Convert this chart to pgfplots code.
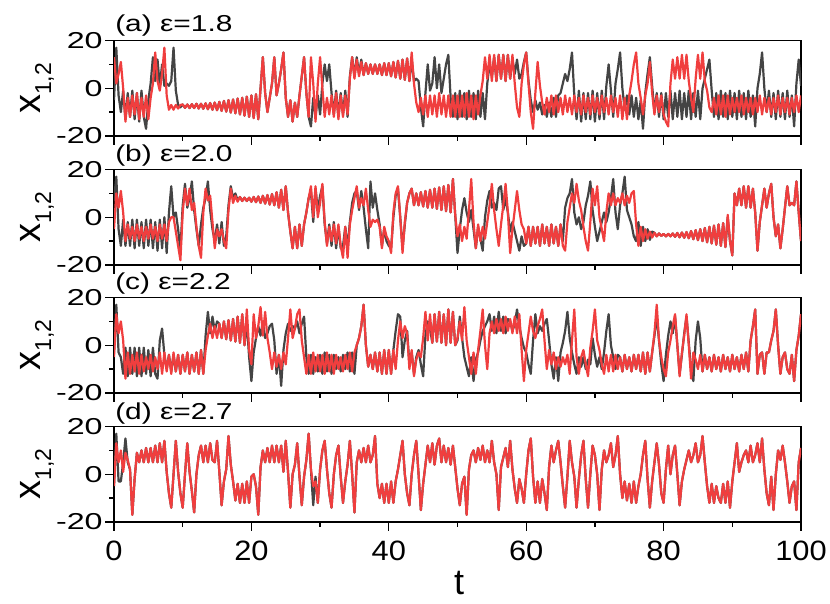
\documentclass[border=0pt]{standalone}
\usepackage{fontspec}
\setmainfont{Liberation Sans}
\usepackage{pgfplots}
\usepackage{pgfplotstable}
\pgfplotsset{compat=1.18}

\definecolor{sgray}{RGB}{68,68,68}
\definecolor{sred}{RGB}{240,62,62}

% one column per series, sampled every 1/3 time unit (t = 0 ... 100)
% (a) eps = 1.8
\pgfplotstableread[row sep=\\]{y\\
-5\\ 17\\ -3\\ -10\\ -1\\ -13\\ -2\\ -12\\ -1\\ -13\\ -2\\ -14\\ -1\\ -12\\ -17\\ -5\\ 2\\ 13\\ 3\\ 12\\ 1\\ 10\\ 1\\ 2\\ 1\\ 3\\ 17\\ -1\\ -7\\ -8\\
-6.8\\ -8.2\\ -6.8\\ -8.3\\ -6.7\\ -8.3\\ -6.5\\ -8.5\\ -6.5\\ -8.6\\ -6.3\\ -8.8\\ -6.2\\ -9\\ -6\\ -9.2\\ -5.7\\ -9.5\\ -5.3\\ -9.8\\ -5\\ -10.2\\ -4.7\\ -10.5\\ -4.3\\ -11\\ -4\\ -11.5\\ -3.5\\ -12\\
-3\\ -12.5\\ -2.5\\ -13\\ 0\\ 13\\ -2\\ -10\\ -4\\ 2\\ 13\\ -3\\ 2\\ 8\\ 15\\ -4\\ -12\\ -5\\ -14\\ -6\\ -12\\ -3\\ 5\\ 13\\ -2\\ -12\\ -16\\ -4\\ -12\\ -3\\
-11\\ 2\\ 10\\ 3\\ 10\\ -2\\ -11\\ -1\\ -12\\ -2\\ -11\\ -1\\ -12\\ 5\\ 13\\ 5\\ 13\\ 6\\ 12\\ 5.5\\ 10.5\\ 6\\ 10\\ 6\\ 10\\ 6\\ 10\\ 5.5\\ 10.5\\ 5.5\\
10.5\\ 5\\ 11\\ 4.5\\ 11.5\\ 4\\ 12\\ 3.5\\ 12.5\\ 3\\ 12\\ 3\\ 4\\ 3\\ -8\\ -16\\ -2\\ 10\\ -1\\ 2\\ 13\\ 0\\ 10\\ -2\\ 4\\ 10\\ 14\\ -4\\ -12\\ -2\\
-13\\ -1\\ -12\\ -2\\ -13\\ -1\\ -12\\ -2\\ -13\\ -1\\ -12\\ -2\\ -13\\ 2\\ 10\\ 5\\ 13\\ 3\\ 14\\ 4\\ 14\\ 3\\ 14\\ 4\\ 12\\ 6\\ 12\\ 4\\ 6\\ 11\\
15\\ 3\\ -5\\ -10\\ -5\\ -9\\ -6\\ -11\\ -7\\ -12\\ -6\\ -12\\ -4\\ -12\\ -3\\ -2\\ 2\\ 6\\ 3\\ 8\\ 15\\ -3\\ -13\\ -1\\ -14\\ -2\\ -13\\ -2\\ -13\\ -1\\
-14\\ -2\\ -13\\ -1\\ -13\\ 1\\ 10\\ -1\\ -12\\ 2\\ 8\\ 15\\ 0\\ -9\\ -3\\ -11\\ -3\\ -12\\ -4\\ -13\\ -5\\ -17\\ -2\\ 6\\ 13\\ 1\\ -10\\ -2\\ -12\\ -2\\
-13\\ -2\\ -12\\ -1\\ -13\\ -2\\ -12\\ -1\\ -13\\ -2\\ -12\\ -1\\ -13\\ -2\\ -12\\ -1\\ -13\\ 0\\ 4\\ 8\\ 12\\ -1\\ -12\\ -2\\ -13\\ -1\\ -12\\ -2\\ -13\\ -1\\
-12\\ -2\\ -13\\ -1\\ -12\\ -2\\ -13\\ -1\\ -12\\ -3\\ -16\\ 0\\ 6\\ 15\\ 0\\ -10\\ -1\\ -12\\ -2\\ -13\\ -1\\ -12\\ -2\\ -13\\ -1\\ -12\\ -3\\ -16\\ 2\\ 12\\
1\\
}\tAgray
\pgfplotstableread[row sep=\\]{y\\
13\\ 2\\ 6\\ 11\\ 0\\ -14\\ -4\\ -12\\ -3\\ -11\\ -2\\ -13\\ -4\\ -12\\ -3\\ -13\\ -4\\ 2\\ 15\\ 3\\ -1\\ 6\\ 17\\ -3\\ -9\\ -7\\ -9\\ -7\\ -8.5\\ -7\\
-6.8\\ -8.2\\ -6.8\\ -8.3\\ -6.7\\ -8.3\\ -6.5\\ -8.5\\ -6.5\\ -8.6\\ -6.3\\ -8.8\\ -6.2\\ -9\\ -6\\ -9.2\\ -5.7\\ -9.5\\ -5.3\\ -9.8\\ -5\\ -10.2\\ -4.7\\ -10.5\\ -4.3\\ -11\\ -4\\ -11.5\\ -3.5\\ -12\\
-3\\ -12.5\\ -2.5\\ -13\\ 0\\ 13\\ -2\\ -10\\ -4\\ 2\\ 13\\ -3\\ 2\\ 8\\ 15\\ -4\\ -12\\ -5\\ -14\\ -6\\ -12\\ -3\\ 5\\ 13\\ -2\\ -12\\ 13\\ 2\\ -14\\ 2\\
13\\ 0\\ -12\\ -4\\ -11\\ -3\\ -12\\ -2\\ -13\\ -3\\ -12\\ -3\\ -11\\ 4\\ 13\\ 4\\ 12\\ 5\\ 11\\ 5.5\\ 10.5\\ 6\\ 10\\ 6\\ 10\\ 6\\ 10\\ 5.5\\ 10.5\\ 5.5\\
10.5\\ 5\\ 11\\ 4.5\\ 11.5\\ 4\\ 12\\ 3.5\\ 12.5\\ 3\\ 15\\ 2\\ -6\\ -10\\ -4\\ -11\\ -3\\ -12\\ -3\\ -11\\ -3\\ -12\\ -2\\ -11\\ -3\\ -12\\ -3\\ -12\\ -3\\ -12\\
-3\\ -12\\ -3\\ -12\\ -2\\ -12\\ -3\\ -13\\ -3\\ -11\\ -3\\ 3\\ 13\\ 4\\ 14\\ 3\\ 14\\ 3\\ 14\\ 4\\ 14\\ 3\\ 14\\ 4\\ 14\\ 2\\ -8\\ -12\\ 2\\ 10\\
15\\ 2\\ -10\\ -17\\ -2\\ 11\\ 1\\ -6\\ -11\\ -4\\ -10\\ -3\\ -11\\ -3\\ -10\\ -4\\ -11\\ -3\\ -10\\ -4\\ -11\\ -3\\ -10\\ -4\\ -11\\ -3\\ -10\\ -4\\ -11\\ -3\\
-10\\ -4\\ -11\\ -3\\ -10\\ -4\\ -11\\ -3\\ -10\\ -4\\ -12\\ -3\\ -13\\ -4\\ -13\\ -3\\ 3\\ 10\\ 15\\ 2\\ -4\\ -11\\ -3\\ 2\\ 11\\ -2\\ -11\\ -3\\ -10\\ -3\\
-11\\ -14\\ -16\\ 2\\ 12\\ 4\\ 13\\ 4\\ 14\\ 4\\ 14\\ 3\\ -4\\ -10\\ 4\\ 14\\ 4\\ 15\\ 3\\ -1\\ -8\\ -10\\ -4\\ -11\\ -3\\ -11\\ -3\\ -12\\ -3\\ -11\\
-4\\ -10\\ -4\\ -10\\ -3\\ -11\\ -4\\ -10\\ -4\\ -11\\ -4\\ -10\\ -3\\ -11\\ -4\\ -10\\ -4\\ -11\\ -4\\ -10\\ -3\\ -11\\ -4\\ -10\\ -4\\ -11\\ -4\\ -10\\ -3\\ -10\\
-3\\
}\tAred

% (b) eps = 2.0
\pgfplotstableread[row sep=\\]{y\\
7\\ 17\\ -5\\ -12\\ -1\\ -12\\ -2\\ -12\\ -1\\ -13\\ -1\\ -12\\ -2\\ -13\\ -1\\ -12\\ -1\\ -13\\ -2\\ -14\\ -1\\ -13\\ 0\\ -15\\ 2\\ 13\\ 0\\ 2\\ -5\\ -14\\
5\\ 14\\ 4\\ 8\\ 15\\ 3\\ -5\\ -12\\ -3\\ 4\\ 8\\ 15\\ 3\\ -5\\ -10\\ -3\\ -11\\ -2\\ -12\\ -8\\ 5\\ 13\\ 8\\ 10\\ 7\\ 8.5\\ 6.8\\ 8.2\\ 6.8\\ 8.2\\
6.5\\ 8.5\\ 6.3\\ 8.7\\ 6\\ 9\\ 5.7\\ 9.3\\ 5.3\\ 9.7\\ 5\\ 10.5\\ 4\\ 11.5\\ 3\\ 13\\ 2\\ -6\\ -13\\ -4\\ -13\\ -3\\ -12\\ -3\\ 2\\ 8\\ 11\\ -2\\ 12\\ 3\\
9\\ 13\\ -3\\ -11\\ -3\\ -12\\ -2\\ -13\\ -4\\ -13\\ -12\\ -4\\ -13\\ -2\\ 6\\ 10\\ 11\\ 3\\ 11\\ 4\\ -5\\ -13\\ 15\\ 4\\ 10\\ 3\\ -3\\ -12\\ -5\\ -10\\
-12\\ -13\\ 0\\ 9\\ 12\\ 0\\ -13\\ -3\\ 6\\ 10\\ 12\\ 5\\ 10\\ 5\\ 10.5\\ 4.5\\ 11\\ 4\\ 11.5\\ 4\\ 12\\ 3.5\\ 12.5\\ 3\\ 13\\ 2.5\\ 13.5\\ 2\\ 16\\ 1\\
-15\\ -5\\ 3\\ 8\\ 2\\ -2\\ 3\\ -5\\ -13\\ -4\\ -9\\ -14\\ 0\\ 7\\ 11\\ 4\\ 6\\ 3\\ 12\\ 13\\ 3\\ 8\\ 2\\ -6\\ -2\\ -6\\ -10\\ -14\\ -8\\ -12\\
-11\\ -4\\ -12\\ -4\\ -11\\ -4\\ -12\\ -3\\ -11\\ -4\\ -12\\ -3\\ -11\\ -4\\ -12\\ -3\\ -10\\ 4\\ 8\\ 10\\ 16\\ 2\\ -3\\ 0\\ -5\\ -2\\ 5\\ 9\\ 15\\ 3\\
-4\\ -10\\ -6\\ -2\\ 2\\ -2\\ 2\\ 8\\ 16\\ 2\\ -5\\ 5\\ 10\\ 17\\ 3\\ 0\\ -3\\ -8\\ -10\\ -2\\ -12\\ -4\\ -10\\ -5\\ -9.5\\ -6\\ -6.5\\ -8\\ -6.8\\ -7.8\\
-7\\ -8\\ -7\\ -8\\ -6.8\\ -8.2\\ -6.6\\ -8.4\\ -6.4\\ -8.6\\ -6.2\\ -8.8\\ -5.8\\ -9.2\\ -5.4\\ -9.6\\ -5\\ -10\\ -4.5\\ -10.5\\ -4\\ -11\\ -3.5\\ -11.5\\ -3\\ -12\\ -2.5\\ -12.5\\ 0\\ -10\\
-16\\ 10\\ 5\\ 12\\ 5\\ 13\\ 4\\ 13\\ 4\\ 12\\ 2\\ -14\\ -2\\ 5\\ 12\\ 4\\ 10\\ 14\\ 0\\ -8\\ -3\\ -13\\ -5\\ 4\\ 13\\ 5\\ 6\\ 5\\ 15\\ 2\\
-10\\
}\tBgray
\pgfplotstableread[row sep=\\]{y\\
-5\\ 10\\ 4\\ 11\\ 2\\ -10\\ -3\\ -9\\ -4\\ -10\\ -3\\ -9\\ -4\\ -10\\ -4\\ -9\\ -3\\ -9\\ -4\\ -10\\ -3\\ -9\\ -3\\ -10\\ -2\\ 0\\ 0\\ -6\\ -12\\ -18\\
2\\ 12\\ 5\\ 12\\ 3\\ 6\\ -4\\ -12\\ -17\\ 2\\ 12\\ 7\\ 9\\ -2\\ -13\\ -5\\ -8\\ -5\\ -10\\ -13\\ 3\\ 12\\ 6\\ 9\\ 6.5\\ 8.5\\ 6.8\\ 8.2\\ 6.8\\ 8.2\\
6.5\\ 8.5\\ 6.3\\ 8.7\\ 6\\ 9\\ 5.7\\ 9.3\\ 5.3\\ 9.7\\ 5\\ 10.5\\ 4\\ 11.5\\ 3\\ 13\\ 2\\ -6\\ -13\\ -4\\ -13\\ -3\\ -12\\ -3\\ 2\\ 8\\ 13\\ 0\\ 13\\ 0\\
6\\ 14\\ -2\\ -12\\ -4\\ -10\\ -3\\ -11\\ -3\\ -12\\ -17\\ -4\\ -17\\ -3\\ 3\\ 8\\ 13\\ 4\\ 8\\ 5\\ 12\\ 3\\ -4\\ -1\\ -2\\ -1\\ -4\\ -13\\ -4\\ -8\\
-10\\ -15\\ 2\\ 10\\ 13\\ 0\\ -15\\ -2\\ 6\\ 10\\ 12\\ 5\\ 10\\ 5\\ 10.5\\ 4.5\\ 11\\ 4\\ 11.5\\ 4\\ 12\\ 3.5\\ 12.5\\ 3\\ 13\\ 2.5\\ 13.5\\ 2\\ 16\\ 1\\
-8\\ -3\\ -10\\ -4\\ -9\\ 3\\ 16\\ -2\\ -13\\ -3\\ -10\\ -4\\ -9\\ -2\\ 5\\ 14\\ 3\\ -5\\ -12\\ -3\\ 5\\ 14\\ 2\\ -15\\ -5\\ 3\\ 11\\ 3\\ -3\\ -5\\
-11\\ -4\\ -12\\ -4\\ -11\\ -4\\ -12\\ -3\\ -11\\ -4\\ -12\\ -3\\ -11\\ -4\\ -12\\ -3\\ -12\\ -14\\ -2\\ 4\\ 10\\ 6\\ 14\\ 7\\ 3\\ -4\\ -10\\ -14\\ -2\\ 12\\
5\\ 13\\ 0\\ -5\\ -10\\ 2\\ 10\\ 5\\ 10\\ 5\\ 8\\ 6\\ 10\\ 5\\ 9\\ 6\\ 10\\ 11\\ -3\\ -12\\ -4\\ -10\\ -5\\ -9\\ -6\\ -8.5\\ -6.5\\ -8\\ -6.8\\ -7.8\\
-7\\ -8\\ -7\\ -8\\ -6.8\\ -8.2\\ -6.6\\ -8.4\\ -6.4\\ -8.6\\ -6.2\\ -8.8\\ -5.8\\ -9.2\\ -5.4\\ -9.6\\ -5\\ -10\\ -4.5\\ -10.5\\ -4\\ -11\\ -3.5\\ -11.5\\ -3\\ -12\\ -2.5\\ -12.5\\ 1\\ -10\\
-16\\ 10\\ 5\\ 12\\ 5\\ 13\\ 4\\ 13\\ 4\\ 12\\ 2\\ -14\\ -2\\ 5\\ 12\\ 4\\ 10\\ 14\\ 0\\ -8\\ -3\\ -13\\ -5\\ 4\\ 13\\ 5\\ 6\\ 5\\ 15\\ 2\\
-10\\
}\tBred

% (c) eps = 2.2
\pgfplotstableread[row sep=\\]{y\\
-3\\ 17\\ -3\\ -5\\ -12\\ -1\\ -13\\ -1\\ -12\\ -1\\ -13\\ -1\\ -13\\ -1\\ -12\\ -2\\ -13\\ -1\\ -12\\ -14\\ 2\\ 7\\ -4\\ -10\\ -4\\ -11\\ -4\\ -11\\ -4\\ -12\\
-4\\ -11\\ -3\\ -12\\ -4\\ -11\\ -3\\ -12\\ -2\\ -12\\ 4\\ 14\\ 5\\ 12\\ 6\\ 10\\ 9\\ 3\\ 10\\ 2.5\\ 10.5\\ 2\\ 11\\ 1.5\\ 12\\ 1\\ 13\\ 0\\ 10\\ -5\\
-15\\ -3\\ 3\\ 8\\ 4\\ 10\\ 3\\ 5\\ 8\\ 9\\ 2\\ -12\\ -4\\ -17\\ -2\\ 5\\ 9\\ 6\\ 8\\ 7\\ 10\\ 5\\ 9\\ 12\\ -5\\ -12\\ -4\\ -12\\ -5\\ -11\\
-4\\ -12\\ -3\\ -11\\ -4\\ -12\\ -4\\ -10\\ -5\\ -11\\ -4\\ -10\\ -3\\ -11\\ -3\\ -12\\ 0\\ 3\\ 8\\ 17\\ 0\\ -9\\ -4\\ -10\\ -3\\ -11\\ -3\\ -12\\ -2\\ -12\\
-2\\ -12\\ -2\\ 6\\ 13\\ 12\\ -5\\ 2\\ 6\\ -8\\ -3\\ -12\\ -5\\ -2\\ -8\\ -13\\ 4\\ 10\\ 7\\ 1\\ 13\\ 1.5\\ 14\\ 1\\ 13\\ 0\\ 15\\ 1\\ 14\\ 0\\
2\\ 12\\ 3\\ -5\\ -9\\ -13\\ -5\\ -15\\ -6\\ -3\\ 2\\ 6\\ 8\\ 10\\ 13\\ 6\\ 12\\ 5\\ 14\\ 6\\ 12\\ 5\\ 11\\ 10\\ 6\\ 9\\ 15\\ 8\\ 3\\ -1\\
-3\\ -8\\ -12\\ 2\\ 13\\ 5\\ 8\\ 6\\ 9\\ 11\\ 2\\ -8\\ -14\\ -5\\ -15\\ -3\\ 1\\ 6\\ 14\\ 3\\ -3\\ -8\\ -12\\ -5\\ -9\\ -5\\ -10\\ -6\\ -8\\ 3\\
-4\\ -9\\ -5\\ -10\\ -3\\ 6\\ 13\\ 0\\ -5\\ -10\\ -4\\ -5\\ -11\\ -4\\ -10\\ -5\\ -11\\ -4\\ -10\\ -4\\ -11\\ -3\\ -12\\ -3\\ -11\\ -3\\ 4\\ 12\\ 2\\ -8\\
-15\\ -4\\ 4\\ 10\\ 5\\ 12\\ 0\\ -12\\ -4\\ 5\\ 12\\ 1\\ -10\\ -15\\ 2\\ 10\\ 3\\ -11\\ -4\\ -10\\ -5\\ -11\\ -4\\ -10\\ -5\\ -11\\ -4\\ -10\\ -5\\ -11\\
-4\\ -10\\ -5\\ -11\\ -4\\ -10\\ -3\\ -11\\ 2\\ 8\\ 15\\ -12\\ -4\\ -3\\ -12\\ -3\\ -3\\ 2\\ 6\\ 15\\ 0\\ -12\\ -5\\ -3\\ -10\\ -12\\ -4\\ -15\\ -2\\ 4\\
13\\
}\tCgray
\pgfplotstableread[row sep=\\]{y\\
-5\\ 13\\ 5\\ 10\\ 2\\ -14\\ -3\\ -12\\ -4\\ -11\\ -3\\ -12\\ -4\\ -11\\ -5\\ -10\\ -4\\ -11\\ -5\\ -10\\ -3\\ -12\\ -3\\ -11\\ -4\\ -12\\ -3\\ -11\\ -4\\ -12\\
-4\\ -11\\ -3\\ -12\\ -4\\ -11\\ -3\\ -12\\ -2\\ -12\\ -2\\ 4\\ 9\\ 3\\ 8\\ 3\\ 9\\ 3\\ 10\\ 2.5\\ 10.5\\ 2\\ 11\\ 1.5\\ 12\\ 1\\ 13\\ 0\\ 15\\ -2\\
-8\\ 13\\ 3\\ 8\\ 16\\ 4\\ 14\\ 3\\ -3\\ -10\\ -3\\ -9\\ -4\\ -10\\ -3\\ -8\\ 3\\ 15\\ 3\\ 7\\ 13\\ 15\\ 2\\ -5\\ -12\\ -4\\ -12\\ -3\\ -11\\ -4\\
-11\\ -4\\ -12\\ -3\\ -11\\ -4\\ -12\\ -4\\ -10\\ -5\\ -11\\ -4\\ -10\\ -3\\ -11\\ -3\\ 0\\ 3\\ 8\\ 17\\ 0\\ -9\\ -4\\ -10\\ -3\\ -11\\ -3\\ -12\\ -2\\ -12\\
-2\\ -12\\ -2\\ -10\\ 2\\ 10\\ 3\\ 8\\ 5\\ -10\\ -2\\ -13\\ -6\\ -3\\ -5\\ 3\\ 14\\ 2\\ 13\\ 1\\ 13\\ 1.5\\ 14\\ 1\\ 13\\ 0\\ 15\\ 1\\ 14\\ 0\\
3\\ 10\\ 2\\ 16\\ 2\\ -5\\ -12\\ -3\\ -12\\ -2\\ 6\\ 15\\ 0\\ -10\\ 5\\ 10\\ 5\\ 11\\ 6\\ 11\\ 5\\ 12\\ 6\\ 11\\ 5\\ 12\\ 5\\ 13\\ -2\\ -15\\
-2\\ 5\\ 12\\ 6\\ 3\\ 8\\ 11\\ 15\\ 2\\ -10\\ -2\\ -8\\ -3\\ -10\\ -5\\ -9\\ -5\\ -8\\ -4\\ -12\\ 2\\ 15\\ -5\\ -12\\ -5\\ -2\\ -8\\ -13\\ -1\\ 6\\
15\\ 2\\ -2\\ -8\\ -12\\ -4\\ -11\\ -4\\ -11\\ -4\\ -10\\ -5\\ -11\\ -4\\ -10\\ -5\\ -11\\ -4\\ -10\\ -4\\ -11\\ -3\\ -12\\ -3\\ -11\\ -3\\ 5\\ 17\\ 2\\ -5\\
-10\\ -13\\ -3\\ 2\\ 8\\ 13\\ 0\\ -13\\ -3\\ 4\\ 13\\ 0\\ -14\\ -3\\ -6\\ -10\\ -4\\ -11\\ -4\\ -10\\ -5\\ -11\\ -4\\ -10\\ -5\\ -11\\ -4\\ -10\\ -5\\ -11\\
-4\\ -10\\ -5\\ -11\\ -4\\ -10\\ -3\\ -11\\ 2\\ 8\\ 15\\ -12\\ -4\\ -3\\ -12\\ -3\\ -3\\ 2\\ 6\\ 15\\ 0\\ -12\\ -5\\ -3\\ -10\\ -12\\ -4\\ -15\\ -2\\ 4\\
13\\
}\tCred

% (d) eps = 2.7
\pgfplotstableread[row sep=\\]{y\\
-5\\ 17\\ -3\\ -3\\ 5\\ 15\\ 5\\ 2\\ -17\\ -2\\ 9\\ 5\\ 10\\ 5\\ 11\\ 5\\ 11\\ 5\\ 12\\ 5\\ 13\\ 5\\ 14\\ 1\\ -8\\ -14\\ 0\\ 14\\ 1\\ -8\\
-14\\ 0\\ 13\\ 1\\ -7\\ -16\\ 0\\ 8\\ 12\\ 5\\ 12\\ 5\\ 13\\ 6\\ 5\\ 14\\ 1\\ -13\\ -3\\ 2\\ 16\\ 4\\ -3\\ -11\\ -4\\ -12\\ -4\\ -12\\ -3\\ -12\\
-1\\ 0\\ -5\\ -17\\ 3\\ 10\\ 5\\ 11\\ 5\\ 12\\ 5\\ 12\\ 5\\ 12\\ 1\\ 14\\ 1\\ -14\\ 0\\ 4\\ 13\\ -1\\ -13\\ -1\\ 6\\ 17\\ 2\\ -13\\ -1\\ -12\\
2\\ 10\\ 14\\ 2\\ -8\\ -14\\ 0\\ 8\\ 12\\ -1\\ -12\\ -3\\ 4\\ 14\\ 0\\ -16\\ 5\\ 10\\ 5\\ 11\\ 5\\ 12\\ 5\\ 8\\ 16\\ -4\\ -10\\ -4\\ -12\\ -4\\
-12\\ -3\\ -12\\ -3\\ 2\\ 8\\ 14\\ 0\\ -8\\ -13\\ 0\\ 8\\ 14\\ 0\\ -15\\ -4\\ 4\\ 12\\ 5\\ 13\\ 4\\ 12\\ 15\\ 5\\ 12\\ 5\\ 11\\ 4\\ 12\\ 3\\
-6\\ -13\\ -4\\ -1\\ -17\\ 2\\ 8\\ 10\\ 5\\ 11\\ 6\\ 12\\ 5\\ 10\\ 5\\ 14\\ 5\\ 0\\ -15\\ 3\\ 7\\ 11\\ 3\\ 14\\ 2\\ -6\\ -12\\ -2\\ -6\\ -12\\
0\\ 10\\ 15\\ -1\\ -12\\ -3\\ -12\\ -2\\ -8\\ -15\\ 3\\ 12\\ 5\\ 10\\ 14\\ 5\\ -5\\ -14\\ -1\\ 14\\ 5\\ -1\\ -14\\ -2\\ 8\\ 14\\ -2\\ -14\\ 0\\ 12\\
8\\ 0\\ -15\\ 2\\ 10\\ 5\\ 8\\ 13\\ 3\\ 8\\ 16\\ 0\\ -10\\ -3\\ -11\\ -4\\ -12\\ -3\\ -12\\ -5\\ 0\\ 8\\ 14\\ -2\\ -14\\ -3\\ 5\\ 13\\ 4\\ -8\\
-12\\ 2\\ 12\\ 0\\ 8\\ 12\\ 0\\ -13\\ -3\\ 2\\ 6\\ 10\\ 5\\ 8\\ 13\\ 5\\ 8\\ 16\\ 5\\ -5\\ -12\\ -4\\ -12\\ -5\\ -10\\ -12\\ -4\\ -12\\ -3\\ -14\\
-3\\ 5\\ 13\\ 1\\ 5\\ 8\\ 10\\ 5\\ 12\\ 5\\ 8\\ 13\\ 5\\ 15\\ 2\\ -8\\ -13\\ -1\\ -15\\ 0\\ 10\\ 6\\ 12\\ 5\\ -3\\ -12\\ -5\\ -3\\ -15\\ 5\\
11\\
}\tDgray
\pgfplotstableread[row sep=\\]{y\\
-5\\ 13\\ 5\\ 10\\ 1\\ 9\\ 6\\ 2\\ -17\\ -2\\ 9\\ 5\\ 10\\ 5\\ 11\\ 5\\ 11\\ 5\\ 12\\ 5\\ 13\\ 5\\ 14\\ 1\\ -8\\ -14\\ 0\\ 14\\ 1\\ -8\\
-14\\ 0\\ 13\\ 1\\ -7\\ -16\\ 0\\ 8\\ 12\\ 5\\ 12\\ 5\\ 13\\ 6\\ 5\\ 14\\ 1\\ -13\\ -3\\ 2\\ 16\\ 4\\ -3\\ -11\\ -4\\ -12\\ -4\\ -12\\ -3\\ -12\\
-1\\ 0\\ -5\\ -17\\ 3\\ 10\\ 5\\ 11\\ 5\\ 12\\ 5\\ 12\\ 5\\ 12\\ 1\\ 14\\ 1\\ -14\\ 0\\ 4\\ 13\\ -1\\ -13\\ -1\\ 6\\ 17\\ 2\\ -5\\ -3\\ -12\\
2\\ 10\\ 14\\ 2\\ -8\\ -14\\ 0\\ 8\\ 12\\ -1\\ -12\\ -3\\ 4\\ 14\\ 0\\ -16\\ 5\\ 10\\ 5\\ 11\\ 5\\ 12\\ 5\\ 8\\ 16\\ -4\\ -10\\ -4\\ -12\\ -4\\
-12\\ -3\\ -12\\ -3\\ 2\\ 8\\ 14\\ 0\\ -8\\ -13\\ 0\\ 8\\ 14\\ 0\\ -15\\ -4\\ 4\\ 12\\ 5\\ 13\\ 4\\ 12\\ 15\\ 5\\ 12\\ 5\\ 11\\ 4\\ 12\\ 3\\
-6\\ -13\\ -4\\ -1\\ -17\\ 2\\ 8\\ 10\\ 5\\ 11\\ 6\\ 12\\ 5\\ 10\\ 5\\ 14\\ 5\\ 0\\ -15\\ 3\\ 7\\ 11\\ 3\\ 14\\ 2\\ -6\\ -12\\ -2\\ -6\\ -12\\
0\\ 10\\ 15\\ -1\\ -12\\ -3\\ -12\\ -2\\ -8\\ -15\\ 3\\ 12\\ 5\\ 10\\ 14\\ 5\\ -5\\ -14\\ -1\\ 14\\ 5\\ -1\\ -14\\ -2\\ 8\\ 14\\ -2\\ -14\\ 0\\ 12\\
8\\ 0\\ -15\\ 2\\ 10\\ 5\\ 8\\ 13\\ 3\\ 8\\ 16\\ 0\\ -10\\ -3\\ -11\\ -4\\ -12\\ -3\\ -12\\ -5\\ 0\\ 8\\ 14\\ -2\\ -14\\ -3\\ 5\\ 13\\ 4\\ -8\\
-12\\ 2\\ 12\\ 0\\ 8\\ 12\\ 0\\ -13\\ -3\\ 2\\ 6\\ 10\\ 5\\ 8\\ 13\\ 5\\ 8\\ 16\\ 5\\ -5\\ -12\\ -4\\ -12\\ -5\\ -10\\ -12\\ -4\\ -12\\ -3\\ -14\\
-3\\ 5\\ 13\\ 1\\ 5\\ 8\\ 10\\ 5\\ 12\\ 5\\ 8\\ 13\\ 5\\ 15\\ 2\\ -8\\ -13\\ -1\\ -15\\ 0\\ 10\\ 6\\ 12\\ 5\\ -3\\ -12\\ -5\\ -3\\ -15\\ 5\\
11\\
}\tDred

\pgfplotsset{
  panel/.style={
    scale only axis, width=687pt, height=95.5pt,
    anchor=south west,
    xmin=0, xmax=100, ymin=-20, ymax=20,
    xtick={0,20,...,100}, minor xtick={10,30,...,90},
    ytick={-20,0,20}, minor ytick={-10,10},
    tick align=outside, tick pos=left,
    major tick length=9pt, minor tick length=5pt,
    every tick/.style={black, line width=1.3pt},
    axis line style={line width=1.3pt},
    /pgf/number format/assume math mode=true,
    yticklabel style={font=\fontsize{23}{23}\selectfont, xscale=1.4, inner sep=1.5pt},
    xticklabel style={font=\fontsize{28}{28}\selectfont, xscale=1.1, inner sep=0pt, yshift=-10pt},
  },
  gr/.style={sgray, line width=2.2pt, line join=round, no markers},
  rd/.style={sred, line width=2.2pt, line join=round, no markers},
}
\newcommand{\ylab}[1]{\node[rotate=90, anchor=base, font=\fontsize{38}{38}\selectfont] at (40pt,#1) {x\raisebox{-11pt}{\fontsize{23}{23}\selectfont 1,2}};}
\newcommand{\ptitle}[2]{\node[anchor=base west, font=\fontsize{23}{23}\selectfont, xscale=1.3, inner sep=0pt] at (115pt,#1) {#2};}

\begin{document}
\begin{tikzpicture}
\path[use as bounding box] (0pt,0pt) rectangle (830pt,604pt);

\begin{axis}[panel, at={(114pt,468pt)}, xticklabels={}]
\addplot[gr] table[x expr=\coordindex/3, y=y] {\tAgray};
\addplot[rd] table[x expr=\coordindex/3, y=y] {\tAred};
\end{axis}

\begin{axis}[panel, at={(114pt,339pt)}, xticklabels={}]
\addplot[gr] table[x expr=\coordindex/3, y=y] {\tBgray};
\addplot[rd] table[x expr=\coordindex/3, y=y] {\tBred};
\end{axis}

\begin{axis}[panel, at={(114pt,211pt)}, xticklabels={}]
\addplot[gr] table[x expr=\coordindex/3, y=y] {\tCgray};
\addplot[rd] table[x expr=\coordindex/3, y=y] {\tCred};
\end{axis}

\begin{axis}[panel, at={(114pt,82pt)}]
\addplot[gr] table[x expr=\coordindex/3, y=y] {\tDgray};
\addplot[rd] table[x expr=\coordindex/3, y=y] {\tDred};
\end{axis}

\ptitle{572pt}{(a) ε=1.8}
\ptitle{442pt}{(b) ε=2.0}
\ptitle{314pt}{(c) ε=2.2}
\ptitle{184pt}{(d) ε=2.7}

\ylab{515.5pt}
\ylab{387pt}
\ylab{259pt}
\ylab{130pt}

\node[anchor=base, font=\fontsize{36}{36}\selectfont] at (459pt,9pt) {t};
\end{tikzpicture}
\end{document}
